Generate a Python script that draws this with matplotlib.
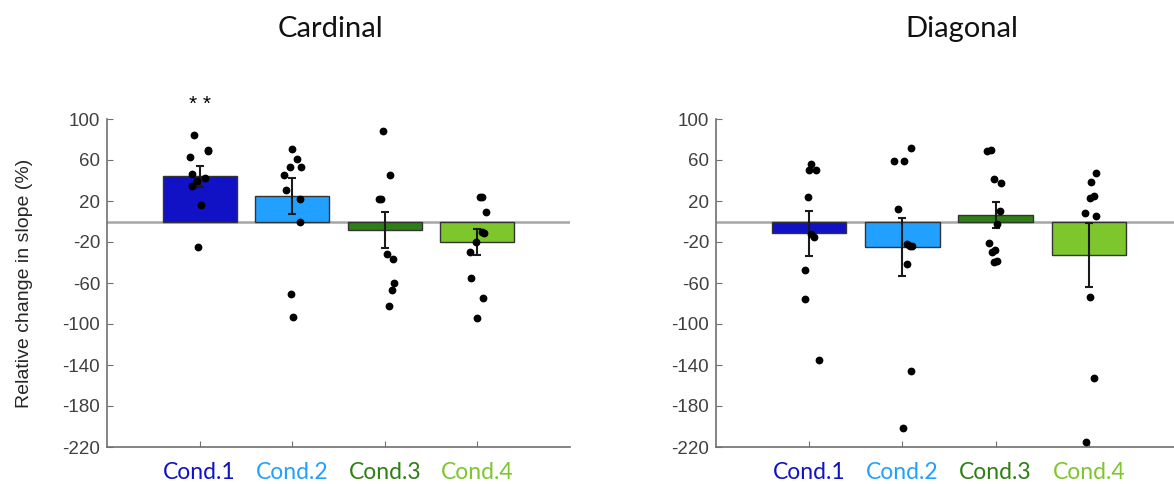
import numpy as np
import matplotlib
matplotlib.use("Agg")
import matplotlib.pyplot as plt

plt.rcParams["font.family"] = "Liberation Sans"
plt.rcParams["axes.unicode_minus"] = False

conditions = ["Cond.1", "Cond.2", "Cond.3", "Cond.4"]
colors = ["#1111c6", "#22a0ff", "#2e7f14", "#7dc62c"]

# Cardinal: per-subject relative change in slope (%)
card_c1 = [84, 70, 69, 63, 46, 40, 42, 35, 16, -25]
card_c2 = [71, 61, 53.5, 53.5, 45, 31, 22, 0, -71, -93]
card_c3 = [88, 45, 22, 22, -32, -37, -60, -67, -82]
card_c4 = [23.6, 24.2, 9, -10, -10.9, -20, -30, -55, -75, -94]
card_mean = [44, 25, -8.5, -20]
card_sem = [10, 17.5, 17.5, 12.7]

# Diagonal
diag_c1 = [55.8, 50, 50, 23.6, -11.9, -15.1, -47, -75.6, -135]
diag_c2 = [71.7, 58.7, 59.3, 11.9, -21.7, -23.6, -24.2, -41.2, -145.6, -201.8]
diag_c3 = [68.8, 69.8, 41.2, 37.9, 10.5, -2.1, -21, -29.5, -28.1, -39.8, -38.2]
diag_c4 = [47.6, 38.2, 25.2, 22.6, 8, 5.4, -73.4, -152.7, -215.4]
diag_mean = [-11.7, -25, 6, -32.7]
diag_sem = [21.6, 28, 12.8, 31]

# horizontal scatter of the subject dots (category units)
card_jit = [
    [-0.06, 0.09, 0.09, -0.10, -0.08, -0.03, 0.06, -0.08, 0.02, -0.02],
    [0.0, 0.05, -0.02, 0.10, -0.09, -0.07, 0.08, 0.08, -0.01, 0.01],
    [-0.02, 0.06, -0.06, -0.04, 0.02, 0.09, 0.10, 0.08, 0.04],
    [0.03, 0.05, 0.09, 0.05, 0.07, -0.01, -0.08, -0.07, 0.06, 0.0],
]
diag_jit = [
    [0.02, 0.0, 0.07, -0.01, 0.02, 0.05, -0.04, -0.04, 0.11],
    [0.09, -0.09, 0.02, -0.05, 0.05, 0.08, 0.10, 0.05, 0.09, 0.01],
    [-0.09, -0.05, -0.02, 0.06, 0.05, 0.02, -0.07, -0.04, -0.01, -0.02, 0.01],
    [0.08, 0.02, 0.06, 0.01, -0.04, 0.08, 0.01, 0.06, -0.03],
]

panels = [
    ("Cardinal", [card_c1, card_c2, card_c3, card_c4], card_mean, card_sem, card_jit),
    ("Diagonal", [diag_c1, diag_c2, diag_c3, diag_c4], diag_mean, diag_sem, diag_jit),
]

fig = plt.figure(figsize=(11.74, 4.84), dpi=100)
W, H = 1174, 484
axes_px = [(107, 463), (716, 466)]
title_x = [330, 962]

x = np.arange(1, 5)
for (name, subj, means, sem, jit), (left, width), tx in zip(panels, axes_px, title_x):
    ax = fig.add_axes([left / W, 37 / H, width / W, 328 / H])
    ax.axhline(0, color="#a6a6a6", lw=1.8, zorder=1)
    ax.bar(x, means, width=0.8, color=colors, edgecolor="#333333", linewidth=1, zorder=2)
    ax.errorbar(x, means, yerr=sem, fmt="none", ecolor="#1a1a1a",
                elinewidth=1.5, capsize=3, capthick=1.5, zorder=3)
    for i, (vals, dx) in enumerate(zip(subj, jit)):
        ax.plot(x[i] + np.array(dx), vals, "o", color="black", ms=4.6,
                zorder=4, clip_on=False)

    ax.set_xlim(0, 5)
    ax.set_ylim(-220, 100)
    ax.set_yticks(np.arange(-220, 101, 40))
    ax.tick_params(axis="y", labelsize=13.5, labelcolor="#404040", pad=5)
    ax.set_xticks(x)
    ax.set_xticklabels(conditions, family="Lato", fontsize=16.5)
    for lab, c in zip(ax.get_xticklabels(), colors):
        lab.set_color(c)
    ax.tick_params(axis="both", direction="in", length=4, color="#707070")
    ax.tick_params(axis="x", pad=11)
    ax.spines["top"].set_visible(False)
    ax.spines["right"].set_visible(False)
    for s in ("left", "bottom"):
        ax.spines[s].set_color("#707070")
        ax.spines[s].set_linewidth(1.2)

    fig.text(tx / W, 1 - 29 / H, name, ha="center", va="center",
             fontsize=21, family="Lato", color="#111111")

    if name == "Cardinal":
        ax.set_ylabel("Relative change in slope (%)", fontsize=14,
                      color="#262626", labelpad=21)
        ax.text(1, 114, "* *", ha="center", va="center", fontsize=15,
                clip_on=False)

plt.savefig("out.png", dpi=100)
